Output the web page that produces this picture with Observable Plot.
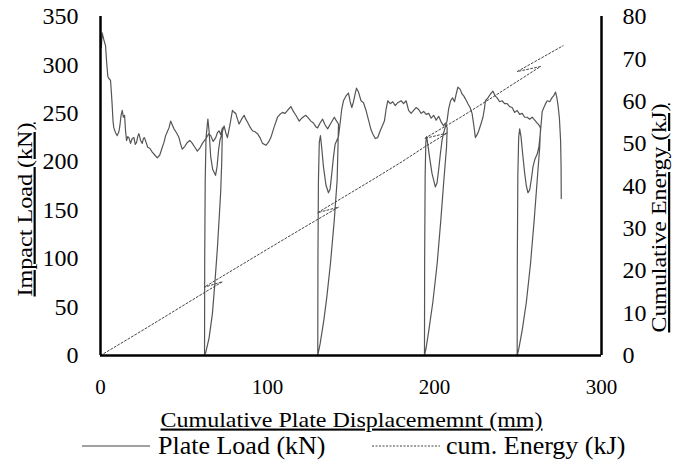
<!DOCTYPE html>
<html><head><meta charset="utf-8">
<script src="https://cdn.jsdelivr.net/npm/d3@7"></script>
<script src="https://cdn.jsdelivr.net/npm/@observablehq/plot@0.6"></script>
<style>
body{margin:0;background:#fff;}
#chart{position:relative;width:683px;height:468px;font-family:'Liberation Serif';}
.leg{position:absolute;font-size:26px;line-height:26px;white-space:nowrap;color:#000;font-family:'Liberation Serif';}
.sw{position:absolute;}
</style></head><body><div id="chart"></div>
<script>
// Plate load (kN) vs cumulative plate displacement (mm), in drawing order
const loadX = [0.5,1,2,3,3.8,4.4,5,6,6.5,7,7.5,8,9,10,11,11.6,12.3,13,13.7,14.4,15,15.6,16.3,17,18,19,20,20.8,21.6,22.3,23,24,25,25.7,26.3,27.3,28.3,29.5,31,32.5,34,35.5,37,38,39,40,41,42,43,44,45.5,47,48,49,50.5,52,53.5,55,56.5,58,59.5,61,62.3,63.5,64.8,66,67.5,69,70,71,72,73,
72.6,72,71,70,68.5,67,65,63,62.3,
62.4,62.7,63.2,64.3,65,66,67.2,68.9,69.8,70.7,71.5,72.5,74,75,76,77.5,79,80,81,82,83,84.5,86,87,88,89.5,91,92.5,94,95.5,97,98,99,100.5,102,104,106,107.5,109,110.5,112,113,114,115.5,117,118,119,120.5,122,123,124.5,126,127.5,129,130,131.5,133,134.5,136,138,140,141,142.5,
142.2,141.7,140,137.7,135.5,133.7,131.5,130.1,
130.2,130.5,131,131.7,132.5,133.5,135,136.5,137.5,138.5,139.5,140.5,141.5,142.5,143.5,144.5,145.5,147,148.5,149.5,150.5,151.5,152.5,153.3,154.5,156,157.5,159,160.5,162,163,164.5,166,167.5,169,170,171,172,173.5,175,176.5,178,180,181.5,183,184.5,186,187.5,189,190.5,192,193.5,195,196.5,198,199.5,201,202.5,204,205.5,206.5,207.6,
207.2,205.6,203.8,201.6,199,196.6,195,194,
194.1,194.4,194.8,195.3,196,197,198.5,200.5,201.5,202.5,203.5,204.5,205.5,206.5,207.5,208.5,209.6,210.8,212,213,214,215.3,216.5,217.5,218.5,220,221.3,222.5,223.5,224.5,225.5,226.5,228,229,230,230.5,232,233.5,235,236.3,237.5,239,240.5,242,243.5,245,246.5,248,249.5,251,252.5,254,255.5,257,258.5,260,261.5,262.5,263.5,
263,261.5,259.7,257.5,255,252.5,250.5,249.5,
249.6,249.9,250.4,251,251.8,252.8,254,255,256,257,258,259,260,261.5,262.5,263.5,264.5,265.5,266.5,267.5,269,270.3,271.3,272.5,273.3,274,274.8,275.5,275.8,275.9];
const loadKN = [318,333,326,320,300,288,286,284,272,258,242,235,230,227,231,237,248,253,246,248,232,222,226,225,219,224,225,218,220,226,229,222,219,224,225,220,215,214,210,207,204,207,215,220,227,231,235,242,238,234,230,225,218,213,216,220,222,219,215,211,214,219,222,225,229,227,221,225,230,232,228,235,
200,170,140,111,75,43,18,3,0,
100,180,225,244,232,205,192,186,195,212,222,228,237,230,225,238,253,251,250,244,239,244,248,244,241,236,232,231,229,225,219,218,217,220,225,236,246,249,251,250,253,255,257,252,248,245,242,245,247,248,245,242,240,236,235,240,244,238,234,240,246,243,239,
215,181,140,95,60,36,12,0,
100,180,220,227,214,195,176,168,172,188,205,218,222,226,240,255,263,268,271,262,256,262,270,276,272,263,261,253,243,233,229,224,225,232,238,242,254,263,260,262,258,261,263,260,263,253,250,253,256,254,250,252,249,250,245,248,243,247,241,237,240,235,
215,181,140,95,55,26,8,0,
100,185,220,226,218,205,188,174,178,192,208,222,230,236,242,255,263,266,262,270,277,275,270,268,265,260,256,250,238,225,228,232,240,246,256,263,266,270,273,268,266,262,263,260,260,257,256,251,253,249,250,246,246,244,246,243,240,238,235,
215,181,140,95,55,26,7,0,
100,185,225,234,226,208,188,175,168,171,182,195,202,208,215,232,252,256,260,263,262,266,268,272,266,258,245,222,195,162];

// Cumulative energy (kJ) vs cumulative plate displacement (mm), in drawing order
const energyX = [0,20,40,62,73,62,84,100,120,142.5,130,163,180,194,207.6,194,216,235,263.5,249.5,277];
const energyKJ = [0,4.7,9.5,14.8,17.4,16.1,21.3,25.1,29.8,35.0,33.7,41.5,45.6,49.2,52.5,51.2,56.3,61.0,68.2,67.0,73.1];

const xTicks = [0,100,200,300];
const loadTicks = [0,50,100,150,200,250,300,350];
const energyTicks = [0,10,20,30,40,50,60,70,80];
const xTitle = "Cumulative Plate Displacememnt (mm)";
const yTitle = "Impact Load (kN)";
const y2Title = "Cumulative Energy (kJ)";
const legendNames = ["Plate Load (kN)", "cum. Energy (kJ)"];

const FONT = "Liberation Serif";
const loadMax = 350, energyMax = 80, k = loadMax / energyMax;
const loadData = loadX.map((x, i) => ({x, v: loadKN[i]}));
const energyData = energyX.map((x, i) => ({x, v: energyKJ[i] * k}));

const plot = Plot.plot({
  width: 683, height: 468,
  marginLeft: 100, marginRight: 82, marginTop: 16, marginBottom: 113,
  style: {fontFamily: FONT, fontSize: "22px", background: "white", color: "black"},
  x: {domain: [0, 300]},
  y: {domain: [0, loadMax]},
  marks: [
    Plot.line(loadData, {x: "x", y: "v", stroke: "#555", strokeWidth: 1.2}),
    Plot.line(energyData, {x: "x", y: "v", stroke: "#444", strokeWidth: 1, strokeDasharray: "2,2"}),
    Plot.ruleX([0, 300], {stroke: "black", strokeWidth: 2.5}),
    Plot.ruleY([0], {stroke: "black", strokeWidth: 2.5}),
    Plot.axisX({ticks: xTicks, tickSize: 0, tickPadding: 24, label: null, fontSize: 21, fontFamily: FONT}),
    Plot.axisY({ticks: loadTicks, tickSize: 0, tickPadding: 22, label: null, fontSize: 24, fontFamily: FONT}),
    Plot.axisY({anchor: "right", ticks: energyTicks.map(v => v * k), tickFormat: v => Math.round(v / k), tickSize: 0, tickPadding: 21, label: null, fontSize: 24, fontFamily: FONT}),
    Plot.text([yTitle], {text: d => d, frameAnchor: "left", textAnchor: "middle", lineAnchor: "middle", dx: -76, dy: 23.5, rotate: -90, fontSize: 22, fontFamily: FONT}),
    Plot.text([y2Title], {text: d => d, frameAnchor: "right", textAnchor: "middle", lineAnchor: "middle", dx: 57.5, dy: 32, rotate: -90, fontSize: 22, fontFamily: FONT}),
    Plot.text([xTitle], {text: d => d, frameAnchor: "bottom", textAnchor: "middle", lineAnchor: "middle", dx: 0.5, dy: 64.3, fontSize: 21, fontFamily: FONT})
  ]
});
const titleLengths = {[yTitle]: 174, [y2Title]: 229, [xTitle]: 382};
plot.querySelectorAll('g[aria-label="text"] text').forEach(t => {
  t.style.textDecoration = "underline";
  const L = titleLengths[t.textContent];
  if (L) { t.setAttribute("textLength", L); t.setAttribute("lengthAdjust", "spacingAndGlyphs"); }
});
const chart = document.getElementById("chart");
chart.appendChild(plot);

function swatch(left, dash) {
  const s = d3.create("svg").attr("class", "sw").attr("width", 68).attr("height", 4)
    .style("left", left + "px").style("top", "444px");
  s.append("line").attr("x1", 0).attr("x2", 68).attr("y1", 2).attr("y2", 2)
    .attr("stroke", "#444").attr("stroke-width", 1).attr("stroke-dasharray", dash);
  chart.appendChild(s.node());
}
swatch(82, null);
swatch(372, "2,1.5");
[[158, legendNames[0]], [446, legendNames[1]]].forEach(([l, t]) => {
  const d = document.createElement("div");
  d.className = "leg"; d.style.left = l + "px"; d.style.top = "433px"; d.textContent = t;
  chart.appendChild(d);
});
</script></body></html>
